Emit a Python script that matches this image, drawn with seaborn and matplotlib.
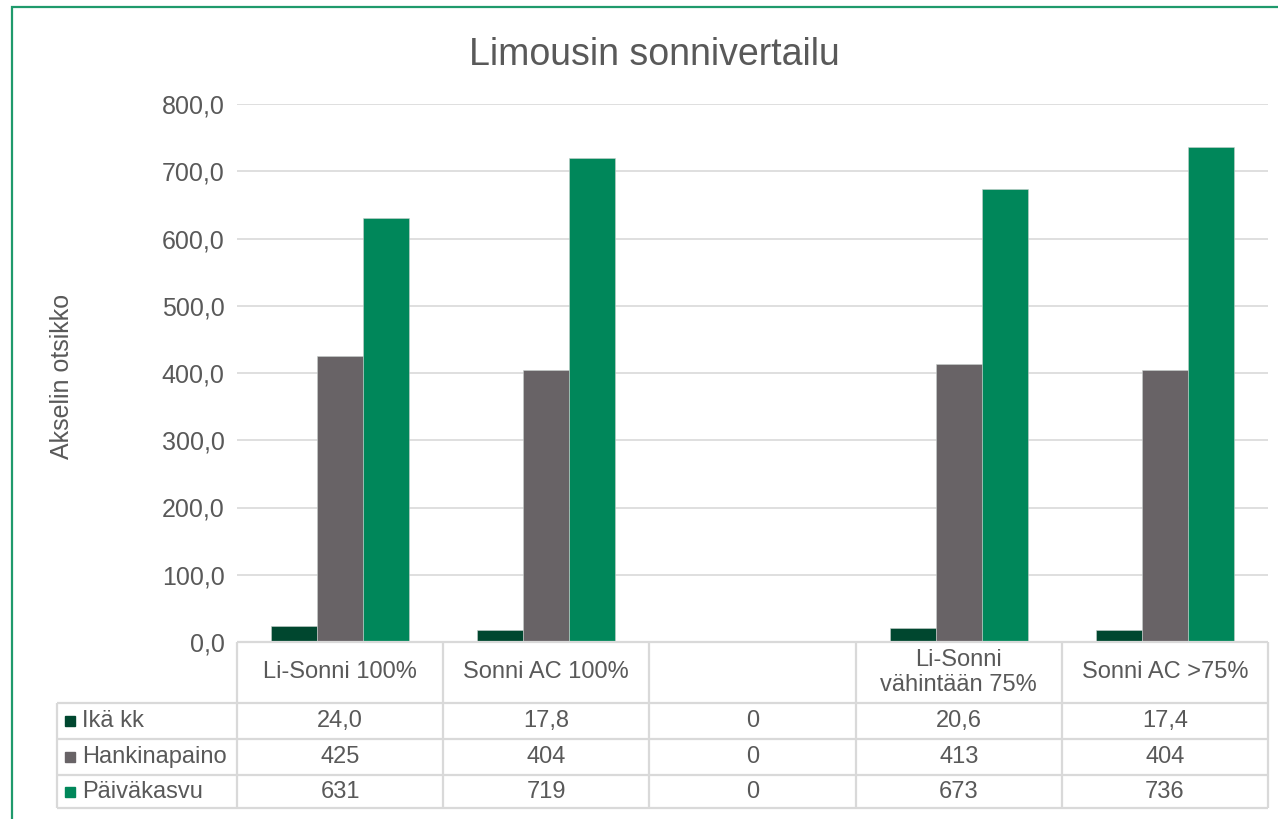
import matplotlib
matplotlib.use("Agg")
import matplotlib.pyplot as plt
from matplotlib.patches import Rectangle
from matplotlib.ticker import FuncFormatter
import seaborn as sns
import pandas as pd

# data
categories = ["Li-Sonni 100%", "Sonni AC 100%", "", "Li-Sonni\nvähintään 75%", "Sonni AC >75%"]
series = ["Ikä kk", "Hankinapaino", "Päiväkasvu"]
ika_kk = [24.0, 17.8, 0, 20.6, 17.4]
hankinapaino = [425, 404, 0, 413, 404]
paivakasvu = [631, 719, 0, 673, 736]
colors = ["#00472f", "#686366", "#00875a"]

values = [ika_kk, hankinapaino, paivakasvu]
rows = []
for name, vals in zip(series, values):
    for cat, v in zip(categories, vals):
        rows.append({"cat": cat, "series": name, "value": v})
df = pd.DataFrame(rows)

sns.set_style("white")
plt.rcParams["font.family"] = ["Liberation Sans", "DejaVu Sans"]
txt = "#595959"
grid = "#d9d9d9"

W, H = 1278, 819
fig = plt.figure(figsize=(W / 100, H / 100), dpi=100)

# plot area in pixel terms
L, R, T, B = 237, 1268, 104, 642
ax = fig.add_axes([L / W, 1 - B / H, (R - L) / W, (B - T) / H])
sns.barplot(data=df, x="cat", y="value", hue="series", order=categories,
            hue_order=series, palette=colors, width=0.67, ax=ax,
            legend=False, saturation=1, edgecolor="#c8d0cc", linewidth=0.4)
ax.set_xlim(-0.5, len(categories) - 0.5)
ax.set_ylim(0, 800)
ax.set_yticks(range(0, 801, 100))
ax.yaxis.set_major_formatter(FuncFormatter(lambda v, p: f"{v:.1f}".replace(".", ",")))
ax.tick_params(axis="y", length=0, pad=9, labelsize=18, labelcolor=txt)
ax.set_xticks([])
ax.set_xlabel("")
ax.set_ylabel("")
ax.grid(axis="y", color=grid, lw=1.2)
ax.set_axisbelow(True)
for s in ax.spines.values():
    s.set_visible(False)

fig.text(654 / W, 1 - 55 / H, "Limousin sonnivertailu", ha="center", va="center",
         fontsize=27, color=txt)
fig.text(62 / W, 1 - 376 / H, "Akselin otsikko", ha="center", va="center",
         rotation=90, fontsize=18, color=txt)

# data table under the plot
TL, TB = 57, 808
cw = (R - L) / len(categories)
x0 = -0.5 - (L - TL) / cw
tax = fig.add_axes([TL / W, 1 - TB / H, (R - TL) / W, (TB - B) / H])
tax.set_xlim(x0, len(categories) - 0.5)
tax.set_ylim(TB - B, 0)
tax.axis("off")
row_edges = [61, 97, 133, 166]
hdr = row_edges[0]
lw = 1.6
tax.hlines(0, -0.5, len(categories) - 0.5, color=grid, lw=lw, clip_on=False)
tax.hlines(row_edges, x0, len(categories) - 0.5, color=grid, lw=lw, clip_on=False)
for i in range(len(categories) + 1):
    tax.vlines(i - 0.5, 0, row_edges[-1], color=grid, lw=lw, clip_on=False)
tax.vlines(x0, hdr, row_edges[-1], color=grid, lw=lw, clip_on=False)

for i, cat in enumerate(categories):
    tax.text(i, hdr / 2, cat, ha="center", va="center", fontsize=17, color=txt,
             linespacing=1.15)

for r, (name, vals, c) in enumerate(zip(series, values, colors)):
    yc = (row_edges[r] + row_edges[r + 1]) / 2
    tax.plot(x0 + 13 / cw, yc, marker="s", ms=7.5, color=c, clip_on=False)
    tax.text(x0 + 25 / cw, yc, name, ha="left", va="center", fontsize=17, color=txt)
    for i, v in enumerate(vals):
        if v == 0:
            s = "0"
        elif r == 0:
            s = f"{v:.1f}".replace(".", ",")
        else:
            s = f"{v:.0f}"
        tax.text(i, yc, s, ha="center", va="center", fontsize=17, color=txt)

# green chart border
fig.patches.append(Rectangle((12 / W, -0.05), 1.1, 1 - 7 / H + 0.05,
                             transform=fig.transFigure, fill=False,
                             edgecolor="#1f9a6c", lw=1.6))

fig.savefig("out.png", dpi=100)
